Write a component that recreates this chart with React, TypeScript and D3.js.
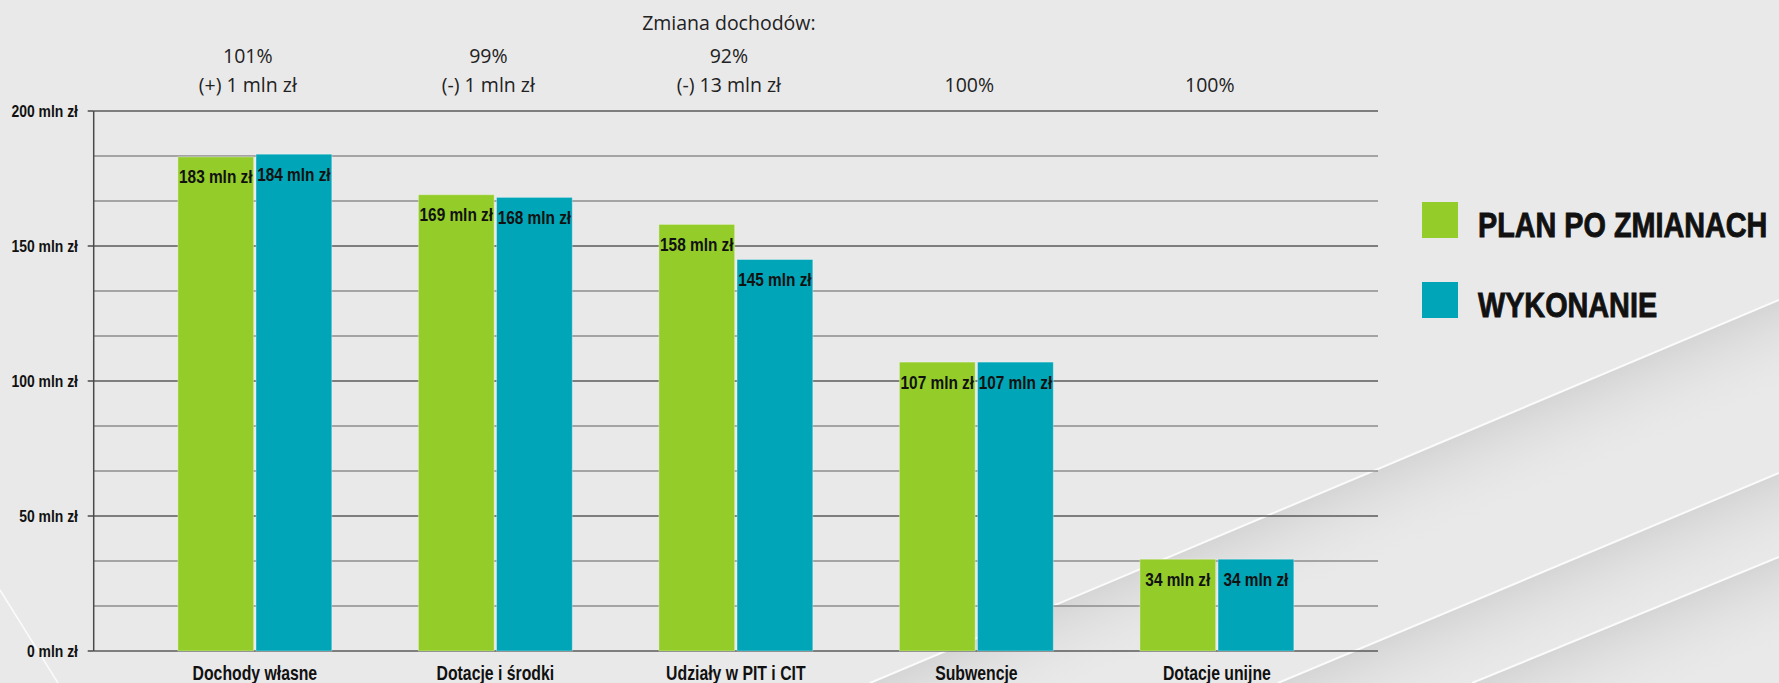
import React from 'react';
import * as d3 from 'd3';

// Chart data
const categories = ['Dochody własne', 'Dotacje i środki', 'Udziały w PIT i CIT', 'Subwencje', 'Dotacje unijne'];
const planValues = [183, 169, 158, 107, 34];
const executedValues = [184, 168, 145, 107, 34];
const changePercent = ['101%', '99%', '92%', '100%', '100%'];
const changeAmount = ['(+) 1 mln zł', '(-) 1 mln zł', '(-) 13 mln zł', '', ''];
const seriesNames = ['PLAN PO ZMIANACH', 'WYKONANIE'];
const majorTicks = [0, 50, 100, 150, 200];

const WIDTH = 1779;
const HEIGHT = 683;
const GREEN = '#94cd2a';
const TEAL = '#00a5b7';
const SANS = "'Liberation Sans', Arial, sans-serif";
const LIGHT = "'Open Sans', 'Noto Sans', sans-serif";

// Decorative background stripes
const stripes = [
  { x1: 870, y1: 683, x2: 1779, y2: 300 },
  { x1: 1278, y1: 683, x2: 1779, y2: 473 },
  { x1: 1472, y1: 683, x2: 1779, y2: 557 },
];

// no narrow font installed, so squeeze Liberation Sans horizontally
function NarrowText({ x, y, size, squeeze = 0.82, anchor = 'middle', dy, heavy = 0, children }: any) {
  return (
    <text
      transform={`translate(${x},${y}) scale(${squeeze},1)`}
      dy={dy}
      textAnchor={anchor}
      fontFamily={SANS}
      fontWeight="bold"
      fontSize={size}
      fill="#111"
      stroke={heavy ? '#111' : 'none'}
      strokeWidth={heavy}
    >
      {children}
    </text>
  );
}

export default function App() {
  const plot = { left: 93.7, right: 1378, top: 111, bottom: 651 };

  const x0 = d3.scaleBand<string>()
    .domain(categories)
    .range([plot.left, plot.right])
    .paddingInner(0.36)
    .paddingOuter(0.35);

  const x1 = d3.scaleBand<string>()
    .domain(seriesNames)
    .range([0, x0.bandwidth()])
    .paddingInner(0.03);

  const y = d3.scaleLinear().domain([0, 200]).range([plot.bottom, plot.top]);

  // minor gridlines every 1/12 of the range
  const gridValues = d3.range(0, 13).map(i => (200 / 12) * i);
  const series = [
    { name: seriesNames[0], values: planValues, color: GREEN },
    { name: seriesNames[1], values: executedValues, color: TEAL },
  ];
  const annotShift = -7;

  return (
    <svg
      width={WIDTH}
      height={HEIGHT}
      viewBox={`0 0 ${WIDTH} ${HEIGHT}`}
      style={{ position: 'absolute', left: 0, top: 0, display: 'block' }}
    >
      <defs>
        {stripes.map((s, i) => {
          const dx = s.x2 - s.x1, dy = s.y2 - s.y1;
          const len = Math.hypot(dx, dy);
          const nx = Math.abs(dy / len), ny = Math.abs(dx / len);
          const mx = (s.x1 + s.x2) / 2, my = (s.y1 + s.y2) / 2;
          return (
            <linearGradient key={i} id={`shade${i}`} gradientUnits="userSpaceOnUse"
              x1={mx} y1={my} x2={mx + nx * 90} y2={my + ny * 90}>
              <stop offset="0" stopColor="#d0d0d0" stopOpacity={0.8} />
              <stop offset="1" stopColor="#e9e9e9" stopOpacity={0} />
            </linearGradient>
          );
        })}
      </defs>

      <rect x={0} y={0} width={WIDTH} height={HEIGHT} fill="#e9e9e9" />
      {stripes.map((s, i) => (
        <g key={i}>
          <polygon points={`${s.x1},${s.y1} ${s.x2},${s.y2} ${WIDTH},${HEIGHT}`} fill={`url(#shade${i})`} />
          <line x1={s.x1} y1={s.y1} x2={s.x2} y2={s.y2} stroke="#fbfbfb" strokeWidth={2} />
        </g>
      ))}
      <line x1={0} y1={590} x2={58} y2={683} stroke="#fbfbfb" strokeWidth={1.5} />

      {/* gridlines */}
      {gridValues.map((v, i) => {
        const major = i % 3 === 0;
        return (
          <line key={i} x1={plot.left} x2={plot.right} y1={y(v)} y2={y(v)}
            stroke={major ? '#5a5a5a' : '#8c8c8c'} strokeWidth={major ? 1.6 : 1.3} />
        );
      })}

      {/* y axis */}
      <line x1={plot.left} x2={plot.left} y1={plot.top} y2={plot.bottom} stroke="#4a4a4a" strokeWidth={1.5} />
      {majorTicks.map(t => (
        <g key={t}>
          <line x1={plot.left - 6} x2={plot.left} y1={y(t)} y2={y(t)} stroke="#4a4a4a" strokeWidth={1.5} />
          <NarrowText x={78} y={y(t)} dy="0.36em" anchor="end" size={17} squeeze={0.82}>
            {`${t} mln zł`}
          </NarrowText>
        </g>
      ))}

      {/* bars */}
      {categories.map((c, ci) => {
        const gx = x0(c) ?? 0;
        return (
          <g key={c}>
            {series.map(s => {
              const v = s.values[ci];
              const bx = gx + (x1(s.name) ?? 0);
              return (
                <g key={s.name}>
                  <rect x={bx} y={y(v)} width={x1.bandwidth()} height={y(0) - y(v)}
                    fill={s.color} stroke="#ffffff" strokeOpacity={0.35} strokeWidth={1} />
                  <NarrowText x={bx + x1.bandwidth() / 2} y={y(v) + 26.5} size={19} squeeze={0.81}>
                    {`${v} mln zł`}
                  </NarrowText>
                </g>
              );
            })}
            <NarrowText x={gx + x0.bandwidth() / 2} y={680} size={19.5} squeeze={0.81}>{c}</NarrowText>
          </g>
        );
      })}

      {/* change annotations */}
      <text x={(plot.left + plot.right) / 2 + annotShift} y={30} textAnchor="middle"
        fontFamily={LIGHT} fontSize={19.5} fill="#222">Zmiana dochodów:</text>
      {categories.map((c, ci) => {
        const cx = (x0(c) ?? 0) + x0.bandwidth() / 2 + annotShift;
        const twoLines = changeAmount[ci] !== '';
        return (
          <g key={c} fontFamily={LIGHT} fontSize={19.5} fill="#222" textAnchor="middle">
            <text x={cx} y={twoLines ? 63 : 92}>{changePercent[ci]}</text>
            {twoLines && <text x={cx} y={92}>{changeAmount[ci]}</text>}
          </g>
        );
      })}

      {/* legend */}
      {series.map((s, i) => (
        <g key={s.name}>
          <rect x={1422} y={202 + i * 80} width={36} height={36} fill={s.color} />
          <NarrowText x={1478} y={236.5 + i * 80} size={36} squeeze={0.8} anchor="start" heavy={0.9}>
            {s.name}
          </NarrowText>
        </g>
      ))}
    </svg>
  );
}
